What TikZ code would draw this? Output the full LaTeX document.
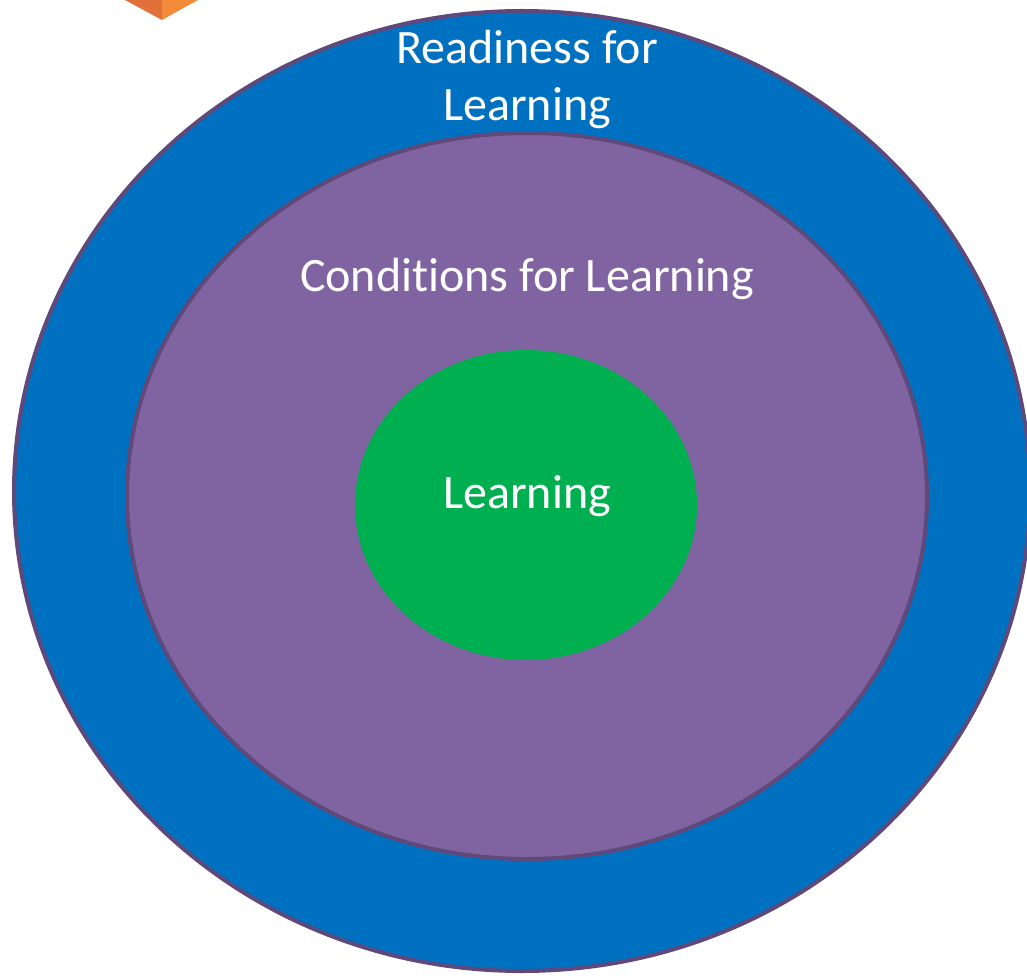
\documentclass[tikz,border=0pt]{standalone}
\usepackage{fontspec}
\setmainfont[Ligatures=NoCommon]{Carlito}
\usetikzlibrary{shapes.geometric}
\definecolor{ringblue}{HTML}{0070C0}
\definecolor{ringpurple}{HTML}{8064A2}
\definecolor{coregreen}{HTML}{00B050}
\definecolor{rimpurple}{HTML}{5F497A}
\definecolor{tipdark}{HTML}{E2703A}
\definecolor{tiplight}{HTML}{F28C3A}
\tikzset{
  ring/.style={ellipse, draw=rimpurple, line width=4pt, inner sep=0pt},
  caption/.style={text=white, align=center, font=\fontsize{48}{57}\selectfont}
}
\begin{document}
\begin{tikzpicture}[x=1pt,y=-1pt]
\useasboundingbox (0,0) rectangle (1027,976);
\clip (0,0) rectangle (1027,976);
% orange tip at the top
\fill[tipdark] (125,0) -- (162,20) -- (162,0) -- cycle;
\fill[tiplight] (162,0) -- (162,20) -- (198,0) -- cycle;
% rings
\node[ring, fill=ringblue, minimum width=1016pt, minimum height=960pt] (outer) at (522,491) {};
\node[ring, fill=ringpurple, minimum width=800pt, minimum height=726pt] (middle) at (527,496) {};
\node[ellipse, fill=coregreen, inner sep=0pt, minimum width=342pt, minimum height=310pt] (core) at (526,505) {};
% labels
\node[caption] (readiness) at (527,79) {Readiness for\\Learning};
\node[caption] (conditions) at (527,279) {Conditions for Learning};
\node[caption] (learning) at (527,496) {Learning};
\end{tikzpicture}
\end{document}
